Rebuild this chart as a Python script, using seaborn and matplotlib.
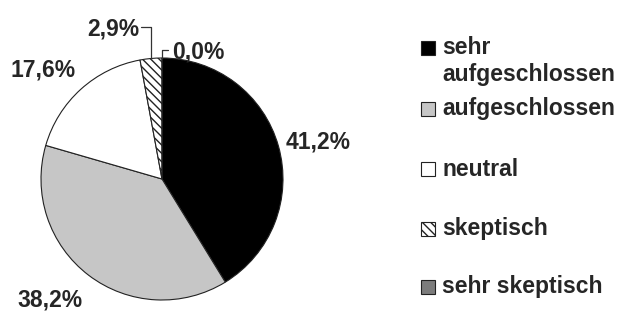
import numpy as np
import matplotlib
matplotlib.use("Agg")
import matplotlib.pyplot as plt
import seaborn as sns
from matplotlib.patches import Rectangle

sns.set_theme(style="white")
plt.rcParams['font.family'] = ['Liberation Sans', 'DejaVu Sans']

categories = ["sehr\naufgeschlossen", "aufgeschlossen", "neutral", "skeptisch", "sehr skeptisch"]
values = [41.2, 38.2, 17.6, 2.9, 0.0]
pct_labels = ["41,2%", "38,2%", "17,6%", "2,9%", "0,0%"]
colors = ["#000000", "#c6c6c6", "#ffffff", "#ffffff", "#7c7c7c"]
hatches = [None, None, None, "\\\\\\\\", None]

W, H = 622, 329
fig = plt.figure(figsize=(W / 100, H / 100), dpi=100)
fig.patch.set_facecolor("white")

cx, cy, r = 162, 179, 121
ax = fig.add_axes([(cx - r) / W, (H - cy - r) / H, 2 * r / W, 2 * r / H])
ax.set_axis_off()

wedges, _ = ax.pie(values, colors=colors, startangle=90, counterclock=False,
                   radius=1.0, wedgeprops=dict(edgecolor="#222222", linewidth=0.8))
for w, h in zip(wedges, hatches):
    if h:
        w.set_hatch(h)
ax.set_xlim(-1, 1)
ax.set_ylim(-1, 1)
ax.set_aspect("equal")

fs = 16.5
for i, (w, lab) in enumerate(zip(wedges, pct_labels)):
    mid = np.deg2rad((w.theta1 + w.theta2) / 2)
    if i < 3:
        d = 1.34
        offs = {0: (0.0, -0.06), 1: (-0.11, 0.07), 2: (-0.08, -0.09)}[i]
        ax.text(d * np.cos(mid) + offs[0], d * np.sin(mid) + offs[1], lab,
                ha="center", va="center", fontsize=fs, fontweight="bold",
                clip_on=False)
    elif i == 3:
        x0, y0 = np.cos(mid), np.sin(mid)
        ytop = 1.26
        ax.plot([x0, x0, x0 - 0.08], [y0, ytop, ytop], color="#333333", lw=0.9, clip_on=False)
        ax.text(x0 - 0.1, ytop - 0.02, lab, ha="right", va="center", fontsize=fs,
                fontweight="bold", clip_on=False)
    else:
        x0, y0 = np.cos(mid), np.sin(mid)
        ytop = 1.07
        ax.plot([x0, x0, x0 + 0.05], [y0, ytop, ytop], color="#333333", lw=0.9, clip_on=False)
        ax.text(x0 + 0.08, ytop - 0.02, lab, ha="left", va="center", fontsize=fs,
                fontweight="bold", clip_on=False)

# legend
leg_y = [48, 109, 169, 229, 287]
box = 14
for lab, c, h, y in zip(categories, colors, hatches, leg_y):
    rect = Rectangle((421 / W, (H - y - box / 2) / H), box / W, box / H,
                     transform=fig.transFigure, facecolor=c, edgecolor="#222222",
                     linewidth=0.8, hatch=h)
    fig.patches.append(rect)
    lines = lab.split("\n")
    for k, ln in enumerate(lines):
        fig.text(442 / W, (H - y - k * 27) / H, ln, ha="left", va="center",
                 fontsize=fs, fontweight="bold")

fig.savefig("out.png", dpi=100, facecolor="white")
